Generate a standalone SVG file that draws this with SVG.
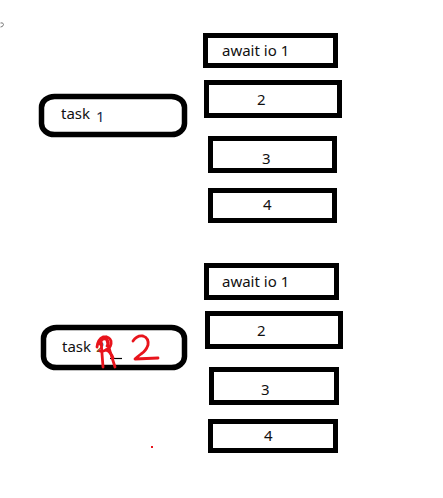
<svg xmlns="http://www.w3.org/2000/svg" width="443" height="498" viewBox="0 0 443 498">
<style>
.box{fill:#fff;stroke:#000;stroke-width:5}
.task{fill:#fff;stroke:#000;stroke-width:5.5}
.t{font-family:"Noto Sans","Liberation Sans",sans-serif;font-size:15px;fill:#111}
.red{fill:none;stroke:#e8141c;stroke-width:2.8;stroke-linecap:round;stroke-linejoin:round}
</style>
<rect width="443" height="498" fill="#fff"/>
<path d="M0.5 23 Q3 22 3.5 24.5 Q3 27 0.5 27" fill="none" stroke="#777" stroke-width="1"/>
<g id="task1">
<rect class="task" x="41.5" y="96.5" width="143" height="38" rx="13" ry="11"/>
<text class="t" x="61" y="119">task</text>
<text class="t" x="96" y="122" style="fill:#1b2a4a">1</text>
</g>
<g id="a1"><rect class="box" x="205.5" y="35.5" width="130" height="30"/><text class="t" x="222" y="56">await io 1</text></g>
<g id="a2"><rect class="box" x="206.5" y="82.5" width="133" height="33"/><text class="t" x="257" y="105">2</text></g>
<g id="a3"><rect class="box" x="210.5" y="138.5" width="124" height="32"/><text class="t" x="262" y="164">3</text></g>
<g id="a4"><rect class="box" x="210.5" y="190.5" width="124" height="30"/><text class="t" x="263" y="210">4</text></g>
<g id="task2">
<rect class="task" x="43.5" y="327.5" width="141" height="40" rx="13" ry="11"/>
<text class="t" x="62" y="352">task</text>
<text class="t" x="96" y="352" style="fill:#6b4a1a">2</text>
<line x1="110" y1="358.5" x2="122" y2="358.5" stroke="#000" stroke-width="1.2"/>
<path class="red" d="M97 347 Q98 339 103 337 Q109 336 111 341 Q112 347 106 350 Q102 352 100 351"/>
<path class="red" d="M99 344 Q101 338 106 339 Q110 342 107 346"/>
<path class="red" d="M101 340 Q102 354 103 367"/>
<path class="red" d="M106 337 Q110 352 115 367"/>
<path class="red" d="M106 350 Q111 352 113 358"/>
<path class="red" d="M133 341 Q137 335 143 336 Q149 338 148 345 Q146 351 141 354 Q137 357 135 359 L158 358"/>
</g>
<g id="b1"><rect class="box" x="206.5" y="265.5" width="130" height="32"/><text class="t" x="222" y="287">await io 1</text></g>
<g id="b2"><rect class="box" x="207.5" y="313.5" width="133" height="33"/><text class="t" x="257" y="336">2</text></g>
<g id="b3"><rect class="box" x="211.5" y="369.5" width="125" height="33"/><text class="t" x="261" y="395">3</text></g>
<g id="b4"><rect class="box" x="210.5" y="421.5" width="125" height="29"/><text class="t" x="264" y="441">4</text></g>
<rect x="151" y="446" width="2" height="2" fill="#e8141c"/>
<g id="connectors"></g>
</svg>
